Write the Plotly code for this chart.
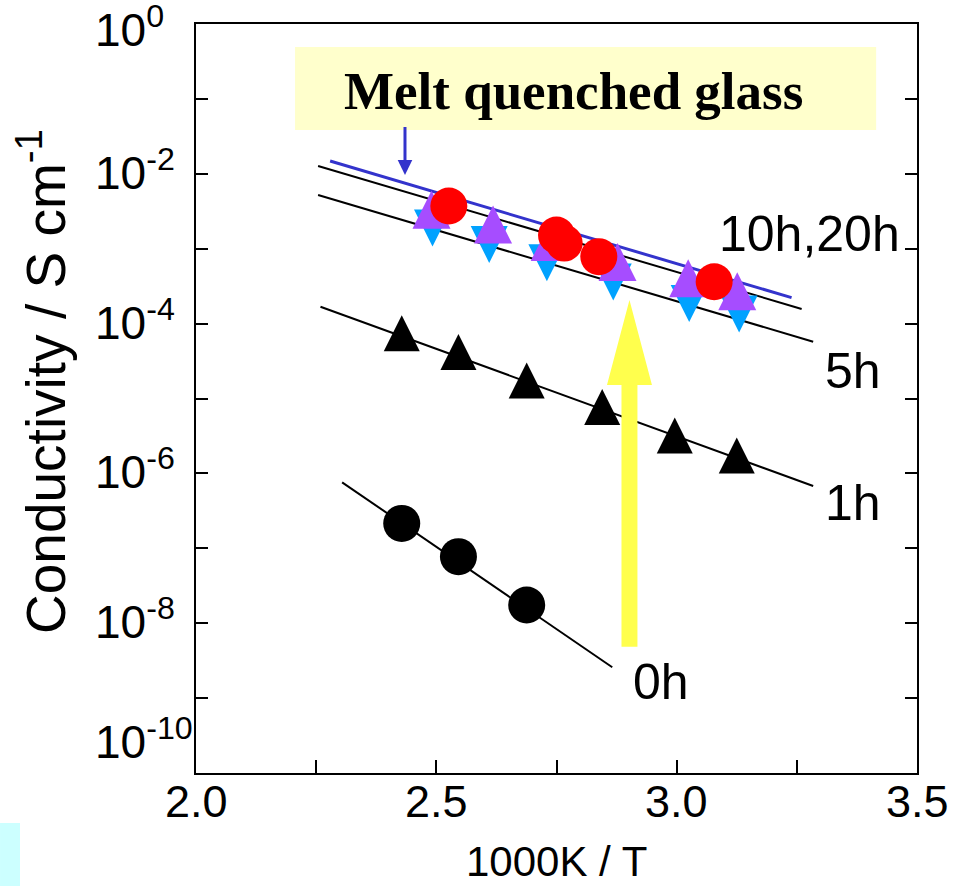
import plotly.graph_objects as go

# ---- data: 1000/T (K^-1) and conductivity (S cm^-1) for each heat-treatment time ----
inv_t_0h = [2.428, 2.546, 2.688]
sigma_0h = [2.15e-7, 7.73e-8, 1.75e-8]

inv_t_1h = [2.428, 2.546, 2.688, 2.845, 2.996, 3.125]
sigma_1h = [7.41e-5, 4.18e-5, 1.74e-5, 7.71e-6, 3.21e-6, 1.73e-6]

inv_t_5h = [2.492, 2.610, 2.730, 2.868, 3.026, 3.130]
sigma_5h = [1.89e-3, 1.14e-3, 6.47e-4, 3.59e-4, 1.85e-4, 1.34e-4]

inv_t_10h = [2.490, 2.618, 2.736, 2.877, 3.024, 3.126]
sigma_10h = [3.32e-3, 2.10e-3, 1.23e-3, 6.64e-4, 4.02e-4, 2.70e-4]

inv_t_20h = [2.526, 2.750, 2.766, 2.838, 3.078]
sigma_20h = [3.72e-3, 1.52e-3, 1.19e-3, 7.82e-4, 3.62e-4]

# Arrhenius fit lines (end points)
fit_glass_x = [2.279, 3.239]
fit_glass_y = [1.48e-2, 2.22e-4]
fit_10h20h_x = [2.254, 3.260]
fit_10h20h_y = [1.27e-2, 1.57e-4]
fit_5h_x = [2.254, 3.284]
fit_5h_y = [5.21e-3, 5.73e-5]
fit_1h_x = [2.259, 3.284]
fit_1h_y = [1.68e-4, 6.79e-7]
fit_0h_x = [2.304, 2.866]
fit_0h_y = [7.60e-7, 2.58e-9]

# axis ticks
x_tickvals = [2.0, 2.25, 2.5, 2.75, 3.0, 3.25, 3.5]
x_label_vals = [2.0, 2.5, 3.0, 3.5]
x_label_text = ["2.0", "2.5", "3.0", "3.5"]
y_exponents = [0, -1, -2, -3, -4, -5, -6, -7, -8, -9, -10]
y_label_exponents = [0, -2, -4, -6, -8, -10]

# series labels: text, x, log10(sigma)
series_labels = ["10h,20h", "5h", "1h", "0h"]
series_label_x = [3.277, 3.367, 3.367, 2.967]
series_label_logy = [-2.80, -4.63, -6.40, -8.78]

SANS = "Liberation Sans, Arial, sans-serif"
SERIF = "Liberation Serif, Times New Roman, serif"

# Y_LO, Y_HI: log10 range of the conductivity axis
Y_LO, Y_HI = -10, 0

# vertical nudges (px) of the end labels so they stay inside the frame
Y_LABEL_NUDGE = {0: -3, -10: 34}


def frac(logv):
    """Position of a log10 value as a fraction of the plot height."""
    return (logv - Y_LO) / (Y_HI - Y_LO)


def tri_up(size, color):
    # arrow-down pushed back by half its height and turned over -> centred up-triangle
    return dict(symbol="arrow-down", angle=180, standoff=size / 2, size=size,
                color=color, line=dict(width=0))


def tri_down(size, color):
    return dict(symbol="arrow-down", angle=0, standoff=size / 2, size=size,
                color=color, line=dict(width=0))


fig = go.Figure()

# fit lines
for fx, fy, col, w in [
    (fit_glass_x, fit_glass_y, "#3333cc", 3),
    (fit_10h20h_x, fit_10h20h_y, "black", 2),
    (fit_5h_x, fit_5h_y, "black", 2),
    (fit_1h_x, fit_1h_y, "black", 2),
    (fit_0h_x, fit_0h_y, "black", 2),
]:
    fig.add_trace(go.Scatter(x=fx, y=fy, mode="lines",
                             line=dict(color=col, width=w), hoverinfo="skip"))

# measured points
fig.add_trace(go.Scatter(x=inv_t_0h, y=sigma_0h, mode="markers", name="0h",
                         marker=dict(symbol="circle", size=37, color="black")))
fig.add_trace(go.Scatter(x=inv_t_1h, y=sigma_1h, mode="markers", name="1h",
                         marker=tri_up(36, "black")))
fig.add_trace(go.Scatter(x=inv_t_5h, y=sigma_5h, mode="markers", name="5h",
                         marker=tri_down(37, "#00a2ff")))
fig.add_trace(go.Scatter(x=inv_t_10h, y=sigma_10h, mode="markers", name="10h",
                         marker=tri_up(38, "#a64dff")))
fig.add_trace(go.Scatter(x=inv_t_20h, y=sigma_20h, mode="markers", name="20h",
                         marker=dict(symbol="circle", size=37, color="#ff0000")))

annotations = []

# y tick labels, left aligned
for e in y_label_exponents:
    annotations.append(dict(
        x=-0.1429, xref="paper", xanchor="left",
        y=frac(e), yref="paper", yanchor="middle", yshift=Y_LABEL_NUDGE.get(e, 4),
        text=f"10<sup>{e}</sup>", showarrow=False,
        font=dict(family=SANS, size=46, color="black")))

# x tick labels
for v, t in zip(x_label_vals, x_label_text):
    annotations.append(dict(
        x=v, xref="x", xanchor="center",
        y=-0.0374, yref="paper", yanchor="middle",
        text=t, showarrow=False,
        font=dict(family=SANS, size=45, color="black")))

# series labels
for t, lx, ly in zip(series_labels, series_label_x, series_label_logy):
    annotations.append(dict(
        x=lx, y=frac(ly), xref="x", yref="paper", xanchor="center", yanchor="middle",
        text=t, showarrow=False, font=dict(family=SANS, size=50, color="black")))

# "Melt quenched glass" caption
annotations.append(dict(
    x=2.785, y=frac(-0.90), xref="x", yref="paper", xanchor="center", yanchor="middle",
    text="<b>Melt quenched glass</b>", showarrow=False,
    font=dict(family=SERIF, size=53, color="black")))

# axis titles
annotations.append(dict(
    x=-0.2136, xref="paper", y=0.5234, yref="paper", xanchor="center", yanchor="middle",
    textangle=-90, text="Conductivity / S cm<sup>-1</sup>", showarrow=False,
    font=dict(family=SANS, size=55, color="black")))
annotations.append(dict(
    x=0.5, xref="paper", y=-0.1175, yref="paper", xanchor="center", yanchor="middle",
    text="1000K / T", showarrow=False,
    font=dict(family=SANS, size=42, color="black")))

shapes = [
    # caption box
    dict(type="rect", xref="x", yref="paper", x0=2.206, x1=3.415,
         y0=frac(-1.415), y1=frac(-0.307),
         fillcolor="#ffffcc", line=dict(width=0), layer="below"),
    # pointer from caption to the glass line
    dict(type="line", xref="x", yref="paper", x0=2.4348, x1=2.4348,
         y0=frac(-1.375), y1=frac(-1.85),
         line=dict(color="#3333cc", width=3), layer="above"),
    dict(type="path", xref="x", yref="paper",
         path=f"M 2.4196 {frac(-1.815)} L 2.4500 {frac(-1.815)} L 2.4348 {frac(-2.016)} Z",
         fillcolor="#3333cc", line=dict(width=0), layer="above"),
    # heat-treatment direction arrow
    dict(type="path", xref="x", yref="paper",
         path=(f"M 2.8852 {frac(-8.314)} L 2.8852 {frac(-4.82)} L 2.8550 {frac(-4.82)} "
               f"L 2.9018 {frac(-3.685)} L 2.9486 {frac(-4.82)} L 2.9184 {frac(-4.82)} "
               f"L 2.9184 {frac(-8.314)} Z"),
         fillcolor="#ffff4d", line=dict(width=0), layer="above"),
    # corner swatch
    dict(type="rect", xref="paper", yref="paper", x0=-0.2718, x1=-0.2441,
         y0=-0.1509, y1=-0.0668, fillcolor="#ccffff", line=dict(width=0)),
]

fig.update_layout(
    width=965, height=886,
    margin=dict(l=196, r=48, t=24, b=113),
    plot_bgcolor="white", paper_bgcolor="white",
    showlegend=False,
    annotations=annotations,
    shapes=shapes,
    xaxis=dict(
        range=[2.0, 3.5], tickvals=x_tickvals, showticklabels=False,
        ticks="inside", ticklen=13, tickwidth=2, tickcolor="black",
        showline=True, linewidth=2, linecolor="black", mirror=True,
        showgrid=False, zeroline=False,
    ),
    yaxis=dict(
        type="log", range=[Y_LO, Y_HI],
        tickvals=[10 ** e for e in y_exponents],
        showticklabels=False,
        ticks="inside", ticklen=12, tickwidth=2, tickcolor="black",
        showline=True, linewidth=2, linecolor="black", mirror="ticks",
        showgrid=False, zeroline=False,
    ),
)

fig.write_html("out.html")
